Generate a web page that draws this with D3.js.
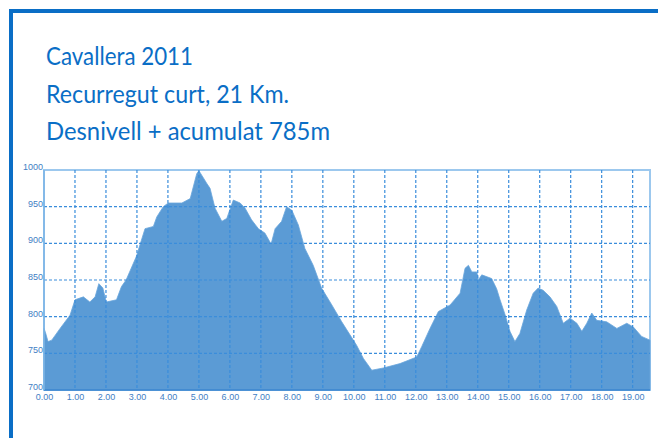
<!DOCTYPE html>
<html><head><meta charset="utf-8">
<script src="https://cdn.jsdelivr.net/npm/d3@7"></script>
<style>
html,body{margin:0;padding:0;background:#fff;}
svg{display:block;}
</style></head>
<body>
<svg id="c" width="658" height="438"></svg>
<script>
const titleLines = ["Cavallera 2011", "Recurregut curt, 21 Km.", "Desnivell + acumulat 785m"];
const dist = [0.00,0.05,0.13,0.25,0.52,0.84,1.00,1.27,1.48,1.65,1.77,1.90,2.01,2.34,2.50,2.65,2.98,3.26,3.53,3.64,3.85,4.01,4.45,4.72,4.93,5.00,5.09,5.25,5.36,5.52,5.74,5.90,6.11,6.33,6.49,6.70,6.92,7.13,7.33,7.46,7.67,7.83,8.00,8.21,8.42,8.69,8.96,9.29,9.61,9.88,10.09,10.31,10.58,10.95,11.49,12.03,12.19,12.46,12.73,13.11,13.43,13.59,13.70,13.81,13.97,14.02,14.13,14.45,14.61,14.72,14.88,15.04,15.20,15.36,15.58,15.79,15.95,16.11,16.33,16.55,16.76,16.98,17.20,17.36,17.52,17.68,17.84,18.16,18.49,18.81,19.02,19.29,19.56];
const elev = [784,778,766,768,784,802,823,827,820,827,845,839,820,823,841,850,882,920,923,936,950,955,955,961,995,999,993,982,975,948,930,934,959,955,948,932,920,914,899,920,930,950,945,925,893,870,839,816,793,775,761,743,727,730,736,745,759,784,807,816,832,866,870,861,861,850,857,852,838,823,803,780,766,777,809,832,839,836,827,814,791,798,791,780,791,805,795,793,784,791,786,773,768];
const xTickValues = [0,1,2,3,4,5,6,7,8,9,10,11,12,13,14,15,16,17,18,19];
const yTickValues = [700,750,800,850,900,950,1000];

const svg = d3.select("#c");
const blue = "#0a6ec6";

// outer frame
svg.append("path").attr("d","M658,11 H11 V438").attr("fill","none").attr("stroke",blue).attr("stroke-width",4);

// titles
const titleWidths = [147, 243, 284];
titleLines.forEach((t,i)=>{
  svg.append("text").attr("x",46).attr("y",65+i*37.5)
    .attr("font-family","Lato,'Open Sans',sans-serif")
    .attr("font-size",25).attr("fill",blue)
    .attr("textLength",titleWidths[i]).attr("lengthAdjust","spacingAndGlyphs")
    .text(t);
});

const x = d3.scaleLinear().domain([0, 19.56]).range([44, 650]);
const y = d3.scaleLinear().domain([700, 1000]).range([390, 170]);
const data = dist.map((d,i)=>({d, e: elev[i]}));

// plot border
svg.append("rect").attr("x",44).attr("y",170).attr("width",606).attr("height",220)
  .attr("fill","#fff").attr("stroke","#9cc8ee").attr("stroke-width",2);

// area
const area = d3.area().x(p=>x(p.d)).y0(y(700)).y1(p=>y(p.e)).curve(d3.curveLinear);
svg.append("path").datum(data).attr("d",area).attr("fill","#5b9bd5")
  .attr("stroke","#6aa6dc").attr("stroke-width",0.8);

// gridlines
const grid = svg.append("g");
grid.selectAll(".vx").data(xTickValues.filter(v=>v>0)).join("line")
  .attr("x1",d=>x(d)).attr("x2",d=>x(d)).attr("y1",170).attr("y2",390)
  .attr("stroke","#3a8ddb").attr("stroke-width",1.2).attr("stroke-dasharray","3,2");
grid.selectAll(".hy").data(yTickValues.filter(v=>v>700 && v<1000)).join("line")
  .attr("x1",44).attr("x2",650).attr("y1",d=>y(d)).attr("y2",d=>y(d))
  .attr("stroke","#3a8ddb").attr("stroke-width",1.2).attr("stroke-dasharray","3,2");

// bottom & left lines
svg.append("line").attr("x1",44).attr("x2",650).attr("y1",390).attr("y2",390).attr("stroke","#3a85cf").attr("stroke-width",1.5);
svg.append("line").attr("x1",44).attr("x2",44).attr("y1",170).attr("y2",390).attr("stroke","#7db5e6").attr("stroke-width",1.5);

// axes labels
const xAxis = d3.axisBottom(x).tickValues(xTickValues).tickFormat(d3.format(".2f")).tickSize(0).tickPadding(4);
const gx = svg.append("g").attr("transform","translate(0,390)").call(xAxis);
gx.select(".domain").remove();
gx.selectAll("text").attr("font-family","'Liberation Sans',Arial,sans-serif").attr("font-size",9).attr("fill","#3f80c4");

const yAxis = d3.axisLeft(y).tickValues(yTickValues).tickFormat(d3.format("d")).tickSize(0).tickPadding(1);
const gy = svg.append("g").attr("transform","translate(44,0)").call(yAxis);
gy.select(".domain").remove();
gy.selectAll("text").attr("font-family","'Liberation Sans',Arial,sans-serif").attr("font-size",9).attr("fill","#3f80c4").attr("dy","-0.05em");
</script>
</body></html>
